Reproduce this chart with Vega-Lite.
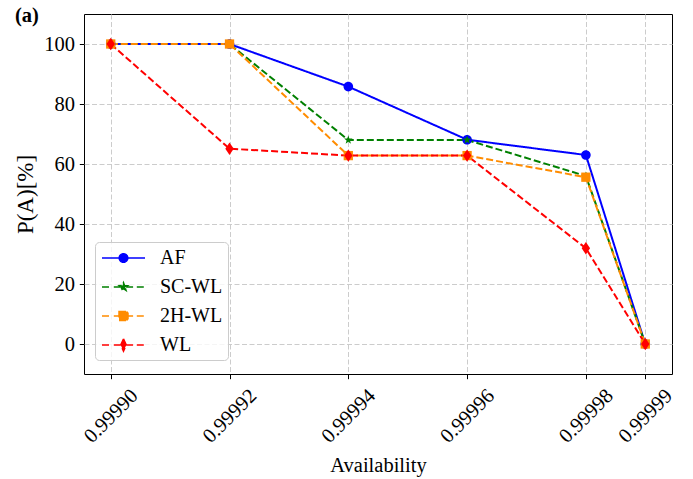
{
  "$schema": "https://vega.github.io/schema/vega-lite/v6.json",
  "width": 588,
  "height": 360,
  "autosize": {"type": "none"},
  "padding": {"left": 84, "top": 14, "right": 21, "bottom": 105},
  "config": {
    "font": "Liberation Serif",
    "view": {"stroke": "black", "strokeWidth": 1},
    "axis": {"labelFont": "Liberation Serif", "titleFont": "Liberation Serif", "labelColor": "black", "titleColor": "black", "tickColor": "black", "titleFontWeight": "normal"},
    "legend": {"labelFont": "Liberation Serif", "titleFont": "Liberation Serif"},
    "title": {"font": "Liberation Serif"}
  },
  "title": {
    "text": "(a)",
    "anchor": "start",
    "frame": "group",
    "orient": "top",
    "dx": -69,
    "dy": 28,
    "offset": 0,
    "baseline": "alphabetic",
    "fontSize": 20.5,
    "fontWeight": "bold",
    "font": "Liberation Serif",
    "color": "black"
  },
  "data": {
    "values": [
      {"series": "AF", "a": 0.99990, "p": 100},
      {"series": "AF", "a": 0.99992, "p": 100},
      {"series": "AF", "a": 0.99994, "p": 85.8},
      {"series": "AF", "a": 0.99996, "p": 68.1},
      {"series": "AF", "a": 0.99998, "p": 63},
      {"series": "AF", "a": 0.99999, "p": 0},
      {"series": "SC-WL", "a": 0.99990, "p": 100},
      {"series": "SC-WL", "a": 0.99992, "p": 100},
      {"series": "SC-WL", "a": 0.99994, "p": 68},
      {"series": "SC-WL", "a": 0.99996, "p": 68},
      {"series": "SC-WL", "a": 0.99998, "p": 56},
      {"series": "SC-WL", "a": 0.99999, "p": 0},
      {"series": "2H-WL", "a": 0.99990, "p": 100},
      {"series": "2H-WL", "a": 0.99992, "p": 100},
      {"series": "2H-WL", "a": 0.99994, "p": 62.8},
      {"series": "2H-WL", "a": 0.99996, "p": 62.8},
      {"series": "2H-WL", "a": 0.99998, "p": 55.6},
      {"series": "2H-WL", "a": 0.99999, "p": 0},
      {"series": "WL", "a": 0.99990, "p": 100},
      {"series": "WL", "a": 0.99992, "p": 65.1},
      {"series": "WL", "a": 0.99994, "p": 62.8},
      {"series": "WL", "a": 0.99996, "p": 62.8},
      {"series": "WL", "a": 0.99998, "p": 31.9},
      {"series": "WL", "a": 0.99999, "p": 0}
    ]
  },
  "encoding": {
    "x": {
      "field": "a",
      "type": "quantitative",
      "scale": {"domain": [0.9998955, 0.9999945], "nice": false, "zero": false},
      "axis": {
        "values": [0.9999, 0.99992, 0.99994, 0.99996, 0.99998, 0.99999],
        "format": ".5f",
        "labelAngle": -45,
        "labelAlign": "center",
        "labelBaseline": "middle",
        "labelPadding": 37,
        "labelOverlap": false,
        "labelFlush": false,
        "labelBound": false,
        "tickSize": 4.7,
        "labelFontSize": 20.5,
        "title": "Availability",
        "titleFontSize": 20.5,
        "titleY": 97.5,
        "titleBaseline": "alphabetic",
        "grid": true,
        "gridDash": [5, 2.5],
        "gridColor": "#cccccc",
        "domain": false
      }
    },
    "y": {
      "field": "p",
      "type": "quantitative",
      "scale": {"domain": [-10, 110], "nice": false, "zero": false},
      "axis": {
        "values": [0, 20, 40, 60, 80, 100],
        "tickSize": 4.7,
        "labelPadding": 4.7,
        "labelFontSize": 20.5,
        "title": "P(A)[%]",
        "titleFontSize": 23,
        "titleX": -52,
        "titleBaseline": "alphabetic",
        "grid": true,
        "gridDash": [5, 2.5],
        "gridColor": "#cccccc",
        "domain": false
      }
    },
    "color": {
      "field": "series",
      "type": "nominal",
      "sort": null,
      "scale": {"domain": ["AF", "SC-WL", "2H-WL", "WL"], "range": ["#0000ff", "#008000", "#ff8c00", "#ff0000"]},
      "legend": {
        "title": null,
        "orient": "none",
        "legendX": 11,
        "legendY": 228,
        "padding": 5,
        "strokeColor": "#cccccc",
        "fillColor": "rgba(255,255,255,0.8)",
        "cornerRadius": 4,
        "labelFontSize": 20,
        "labelFont": "Liberation Serif",
        "labelColor": "black",
        "symbolSize": 400,
        "symbolStrokeWidth": 1.5,
        "symbolOffset": 12.5,
        "labelOffset": 25.5,
        "rowPadding": 8,
        "encode": {
          "symbols": {
            "update": {
              "shape": {"signal": "datum.value === 'AF' ? 'M-2.15,0H2.15M0.43,0A0.43,0.43 0 1,1 -0.43,0A0.43,0.43 0 1,1 0.43,0Z' : datum.value === 'SC-WL' ? 'M-2.15,0H-1.33M-0.97,0H-0.26M0.26,0H0.97M1.33,0H2.15M0,-0.43L0.101,-0.14L0.409,-0.133L0.163,0.054L0.254,0.348L0,0.172L-0.254,0.348L-0.163,0.054L-0.409,-0.133L-0.101,-0.14Z' : datum.value === '2H-WL' ? 'M-2.15,0H-1.33M-0.97,0H-0.26M0.26,0H0.97M1.33,0H2.15M-0.45,-0.45H0.45V0.45H-0.45Z' : 'M-2.15,0H-1.33M-0.97,0H-0.26M0.26,0H0.97M1.33,0H2.15M0,-0.62L0.28,0L0,0.62L-0.28,0Z'"},
              "fill": {"signal": "scale('color', datum.value)"},
              "stroke": {"signal": "scale('color', datum.value)"},
              "opacity": {"value": 1},
              "fillOpacity": {"value": 1},
              "strokeOpacity": {"value": 1}
            }
          }
        }
      }
    }
  },
  "layer": [
    {
      "mark": {"type": "line", "strokeWidth": 2},
      "encoding": {
        "strokeDash": {
          "field": "series",
          "type": "nominal",
          "sort": null,
          "scale": {"domain": ["AF", "SC-WL", "2H-WL", "WL"], "range": [[1, 0], [7, 3], [7, 3], [7, 3]]},
          "legend": null
        }
      }
    },
    {
      "transform": [{"filter": "datum.series === 'AF'"}],
      "mark": {"type": "point", "filled": true, "size": 100, "opacity": 1, "shape": "M0.96,0A0.96,0.96 0 1,1 -0.96,0A0.96,0.96 0 1,1 0.96,0Z"}
    },
    {
      "transform": [{"filter": "datum.series === 'SC-WL'"}],
      "mark": {"type": "point", "filled": true, "size": 100, "opacity": 1, "shape": "M0,-0.9L0.212,-0.291L0.856,-0.278L0.342,0.111L0.529,0.728L0,0.36L-0.529,0.728L-0.342,0.111L-0.856,-0.278L-0.212,-0.291Z"}
    },
    {
      "transform": [{"filter": "datum.series === '2H-WL'"}],
      "mark": {"type": "point", "filled": true, "size": 100, "opacity": 1, "shape": "M-0.93,-0.93H0.93V0.93H-0.93Z"}
    },
    {
      "transform": [{"filter": "datum.series === 'WL'"}],
      "mark": {"type": "point", "filled": true, "size": 100, "opacity": 1, "shape": "M0,-1.24L0.84,0L0,1.24L-0.84,0Z"}
    }
  ]
}
